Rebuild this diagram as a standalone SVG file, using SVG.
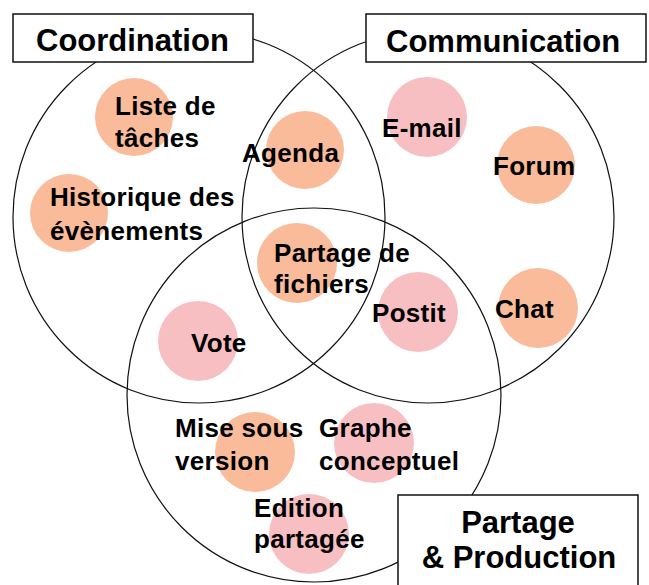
<svg xmlns="http://www.w3.org/2000/svg" width="649" height="585" viewBox="0 0 649 585">
<style>
.set{fill:none;stroke:#111;stroke-width:1.2}
.box{fill:#fff;stroke:#111;stroke-width:1.5}
.title{font-family:"Liberation Sans",Arial,sans-serif;font-weight:bold;font-size:31px;fill:#000}
.lbl{font-family:"Liberation Sans",Arial,sans-serif;font-weight:bold;font-size:26px;letter-spacing:0.3px;fill:#000}
.peach{fill:#F9BB9A}
.pink{fill:#F8BFC3}
</style>
<rect width="649" height="585" fill="#fff"/>
<g id="sets">
<circle class="set" cx="199" cy="217" r="186"/>
<circle class="set" cx="428" cy="217" r="186"/>
<circle class="set" cx="314" cy="395" r="187"/>
</g>
<g id="title-coordination">
<rect class="box" x="13" y="14" width="240" height="48"/>
<text class="title" x="36" y="51">Coordination</text>
</g>
<g id="title-communication">
<rect class="box" x="366" y="14" width="280" height="48"/>
<text class="title" x="386" y="52">Communication</text>
</g>
<g id="title-partage">
<rect class="box" x="398" y="495" width="240" height="100"/>
<text class="title" x="518" y="533" text-anchor="middle">Partage</text>
<text class="title" x="519" y="568" text-anchor="middle">&amp; Production</text>
</g>
<g id="connectors"></g>
<g id="node-liste">
<circle class="peach" cx="134" cy="117" r="39"/>
<text class="lbl" x="115" y="115">Liste de</text>
<text class="lbl" x="115" y="147">tâches</text>
</g>
<g id="node-historique">
<circle class="peach" cx="69" cy="213" r="39"/>
<text class="lbl" x="50" y="206">Historique des</text>
<text class="lbl" x="50" y="240">évènements</text>
</g>
<g id="node-agenda">
<circle class="peach" cx="305" cy="150" r="39"/>
<text class="lbl" x="242" y="162">Agenda</text>
</g>
<g id="node-email">
<circle class="pink" cx="427" cy="117" r="40"/>
<text class="lbl" x="382" y="137">E-mail</text>
</g>
<g id="node-forum">
<circle class="peach" cx="536" cy="165" r="39"/>
<text class="lbl" x="493" y="175">Forum</text>
</g>
<g id="node-fichiers">
<circle class="peach" cx="297" cy="263" r="40"/>
<text class="lbl" x="274" y="262">Partage de</text>
<text class="lbl" x="274" y="293">fichiers</text>
</g>
<g id="node-postit">
<circle class="pink" cx="418" cy="312" r="40"/>
<text class="lbl" x="372" y="322">Postit</text>
</g>
<g id="node-chat">
<circle class="peach" cx="538" cy="308" r="40"/>
<text class="lbl" x="495" y="318">Chat</text>
</g>
<g id="node-vote">
<circle class="pink" cx="198" cy="341" r="40"/>
<text class="lbl" x="191" y="352">Vote</text>
</g>
<g id="node-version">
<circle class="peach" cx="255" cy="452" r="40"/>
<text class="lbl" x="175" y="437">Mise sous</text>
<text class="lbl" x="175" y="470">version</text>
</g>
<g id="node-graphe">
<circle class="pink" cx="374" cy="443" r="40"/>
<text class="lbl" x="319" y="437">Graphe</text>
<text class="lbl" x="319" y="470">conceptuel</text>
</g>
<g id="node-edition">
<circle class="pink" cx="309" cy="534" r="40"/>
<text class="lbl" x="254" y="517">Edition</text>
<text class="lbl" x="254" y="548">partagée</text>
</g>
</svg>
